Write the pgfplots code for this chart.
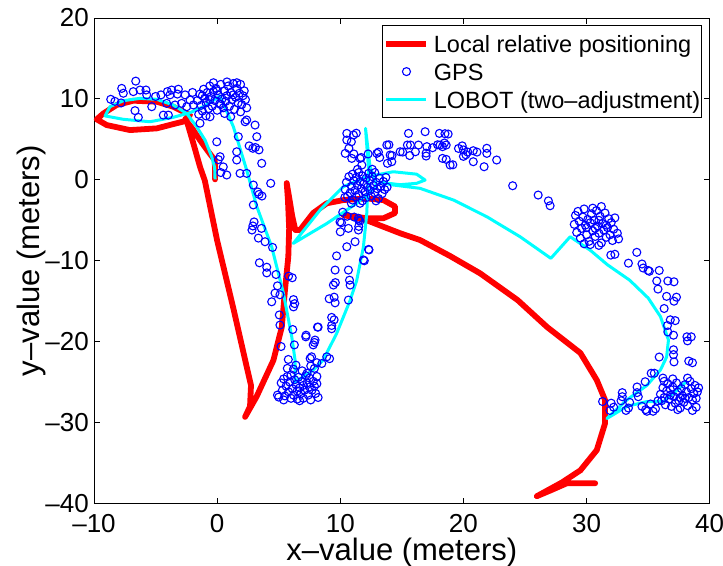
\documentclass[border=0pt]{standalone}
\usepackage{fontspec}
\setmainfont{Liberation Sans}
\usepackage{pgfplots}
\pgfplotsset{compat=1.18}
\usepackage{pgfplotstable}
\definecolor{mred}{rgb}{1,0,0}
\definecolor{mblue}{rgb}{0,0,1}
\definecolor{mcyan}{rgb}{0,1,1}
\pgfplotsset{
  linelegend/.style={legend image code/.code={\draw[##1, line cap=butt] (0pt,0pt) -- (40pt,0pt);}},
  marklegend/.style={legend image code/.code={\draw[##1] plot coordinates {(20pt,0pt)};}},
}

\pgfplotstableread{
x y
-0.17 0.06
-0.17 1.4
-0.2 2.45
-0.71 3.47
-1.39 4.9
-2.0 6.3
-2.6 7.48
-2.3 7.85
-2.2 8.0
-3.56 9.04
-4.9 9.65
-6.8 9.78
-8.16 9.25
-9.24 8.2
-9.78 7.48
-8.97 6.77
-7.08 6.15
-4.9 6.36
-3.28 7.0
-2.47 7.3
-1.93 4.5
-1.39 1.6
-1.0 -0.1
0.0 -7.5
1.32 -15.9
2.4 -23.1
2.75 -25.4
2.67 -28.0
2.27 -29.3
3.2 -26.8
4.57 -22.3
5.25 -18.2
5.51 -13.6
5.78 -9.5
5.85 -6.0
5.75 -2.5
5.65 -0.4
5.85 -2.2
6.1 -4.5
6.35 -6.2
6.73 -6.2
7.8 -4.1
8.9 -2.9
10.25 -2.5
12.15 -2.3
13.5 -2.5
14.45 -3.3
14.45 -4.1
13.5 -4.75
12.15 -4.75
10.25 -4.35
12.15 -5.0
14.86 -6.6
16.48 -7.44
18.9 -9.4
21.36 -11.56
24.4 -14.86
26.8 -18.2
29.5 -21.4
30.83 -24.75
31.5 -27.2
31.5 -30.1
30.83 -33.4
29.5 -35.9
28.0 -37.4
25.96 -39.1
27.2 -38.3
28.4 -37.5
30.7 -37.5
}\redpath

\pgfplotstableread{
x y
-0.17 0.06
-0.2 1.5
-0.44 2.86
-0.98 4.9
-1.66 6.56
-2.47 8.2
-3.56 9.25
-4.9 9.95
-6.26 10.07
-7.62 9.78
-8.7 9.04
-9.1 7.9
-7.62 7.48
-5.45 7.18
-3.56 7.73
-2.2 8.3
-1.12 9.04
0.24 10.36
1.32 6.56
2.4 1.2
3.22 -3.3
4.43 -8.27
5.38 -14.0
6.06 -19.4
6.33 -22.3
6.33 -25.0
7.8 -23.5
8.6 -22.3
9.7 -19.0
10.8 -14.9
11.34 -12.4
11.88 -8.27
12.15 -4.14
12.3 1.2
12.05 6.36
12.42 1.6
12.9 -0.3
12.9 -0.85
11.34 -2.9
8.9 -5.4
6.19 -7.85
8.36 -3.73
10.25 -0.85
12.15 0.38
14.3 1.0
16.2 0.7
16.89 -0.03
16.2 -0.43
14.86 -0.6
13.2 -0.3
14.3 -0.64
16.48 -1.05
19.2 -2.5
21.9 -4.56
24.6 -7.03
27.1 -9.7
28.67 -7.03
30.3 -8.7
31.7 -10.5
33.5 -12.4
35.0 -14.6
36.0 -16.9
36.65 -19.8
36.5 -21.9
36.0 -23.5
34.9 -25.4
33.27 -27.2
31.65 -29.5
33.27 -28.0
34.9 -27.4
36.25 -27.4
37.2 -26.2
38.1 -24.95
}\cyanpath

\pgfplotstableread{
x y
-8.64 9.95
-7.75 11.3
-7.62 10.7
-6.61 12.2
-6.81 10.9
-6.26 11.1
-5.78 11.1
-5.72 10.5
-6.67 8.55
-6.4 7.72
-5.31 9.04
-4.56 10.5
-4.04 10.9
-3.83 10.5
-3.69 11.1
-3.15 11.2
-3.23 10.6
-4.1 9.45
-3.42 9.25
-2.88 9.45
-2.2 9.86
-2.47 9.04
-1.93 9.25
-4.37 8.0
-3.96 8.0
-7.8 9.5
-8.3 9.7
-5.0 10.3
-2.6 10.5
-2.0 10.8
-1.6 9.8
-1.4 10.6
-1.3 9.2
-1.2 8.5
-1.1 11.2
-1.0 10.1
-0.9 9.5
-0.8 10.8
-0.7 8.8
-0.6 11.6
-0.5 10.3
-0.4 9.1
-0.3 10.9
-0.2 9.8
-0.1 11.3
0.0 8.6
0.1 10.5
0.2 9.4
0.3 11.8
0.4 10.0
0.5 8.9
0.6 11.0
0.7 9.7
0.8 10.4
0.9 11.6
1.0 9.1
1.1 10.8
1.2 9.9
1.3 11.9
1.4 8.7
1.5 10.2
1.6 11.3
1.7 9.5
1.8 10.7
1.9 11.8
2.0 9.3
2.1 10.4
2.2 11.0
2.3 9.9
-1.5 8.1
-0.9 7.9
0.6 8.2
1.1 7.8
1.9 8.4
-0.3 12.0
0.8 12.1
1.6 12.0
-0.6 9.9
0.3 9.3
1.3 10.5
0.0 11.0
-1.2 10.4
2.4 8.9
-1.39 7.0
-0.58 7.8
-0.03 4.7
0.24 2.86
0.1 2.5
0.5 1.6
0.78 0.6
0.3 0.9
1.59 2.45
1.59 3.47
1.72 5.33
2.4 7.4
3.08 6.77
2.27 7.18
3.22 5.33
2.9 3.9
2.6 4.2
3.1 4.0
3.4 3.7
3.62 2.04
2.4 0.8
1.86 0.8
2.94 -0.64
4.35 -0.43
3.4 -1.8
3.64 -2.0
3.3 -1.5
2.94 -3.1
3.0 -5.2
2.9 -5.7
2.83 -6.2
3.6 -6.0
3.35 -7.2
3.89 -7.65
4.5 -8.35
3.43 -10.25
4.03 -10.8
4.03 -11.5
4.78 -11.7
5.8 -11.9
6.1 -12.1
4.9 -13.1
4.7 -14.0
5.1 -14.2
4.43 -15.07
6.2 -14.8
6.3 -15.3
6.2 -15.7
5.05 -16.7
5.1 -17.95
6.14 -18.5
5.19 -20.6
6.27 -20.4
5.78 -22.2
5.7 -23.3
6.4 -22.9
7.22 -19.2
8.15 -18.2
7.95 -19.8
7.8 -20.4
7.55 -22.07
8.9 -21.87
8.5 -22.7
5.0 -26.85
4.9 -26.6
5.2 -25.1
5.3 -26.0
5.4 -24.6
5.5 -26.7
5.6 -25.5
5.7 -24.3
5.8 -26.2
5.9 -25.0
6.0 -27.0
6.0 -24.1
6.1 -25.8
6.2 -26.6
6.3 -24.7
6.4 -25.3
6.5 -26.1
6.5 -27.1
6.6 -24.4
6.7 -25.7
6.8 -26.4
6.9 -24.9
7.0 -25.4
7.0 -27.0
7.1 -26.0
7.2 -24.2
7.3 -25.1
7.4 -26.6
7.5 -25.6
7.5 -24.5
7.6 -27.2
7.7 -26.0
7.8 -24.9
7.9 -25.5
8.0 -26.4
8.1 -24.3
8.1 -25.2
7.9 -23.3
7.6 -23.0
8.1 -22.6
5.4 -27.2
6.9 -23.6
6.2 -23.4
7.3 -23.9
8.2 -26.9
6.7 -27.3
10.4 -1.2
10.5 -0.3
10.6 -2.0
10.7 0.4
10.8 -1.6
10.9 -0.8
11.0 0.7
11.0 -2.5
11.1 -0.1
11.2 -1.3
11.3 0.3
11.3 -2.1
11.4 -0.7
11.5 0.9
11.5 -1.8
11.6 -0.2
11.7 -1.1
11.8 0.5
11.8 -2.6
11.9 -0.5
12.0 -1.5
12.1 0.2
12.1 -2.2
12.2 -0.9
12.3 0.8
12.4 -1.3
12.4 -0.1
12.5 -2.0
12.6 0.4
12.7 -0.7
12.8 -1.6
12.8 0.9
12.9 -0.3
13.0 -1.1
13.1 -2.3
13.2 0.2
13.3 -0.8
13.4 -1.7
13.5 -0.2
13.6 -1.2
13.7 0.3
13.8 -0.9
11.6 -2.9
12.9 -2.6
10.9 -2.9
11.4 1.3
12.6 1.3
10.53 5.74
11.07 5.54
10.53 4.92
10.9 4.7
10.7 3.9
10.4 3.27
10.93 2.65
11.6 2.65
11.75 1.83
11.3 5.76
11.1 3.2
11.7 2.76
12.26 3.2
13.1 3.43
13.2 2.76
13.95 4.33
14.2 3.0
15.54 5.74
15.7 4.3
15.45 4.3
16.1 3.47
16.35 4.3
16.89 5.95
16.97 3.3
15.64 3.0
15.07 3.43
14.86 3.47
14.05 3.07
14.18 2.24
13.83 2.04
13.78 4.3
12.97 3.27
16.97 2.94
17.03 4.1
17.5 3.97
17.9 4.33
18.05 5.74
18.76 5.66
18.5 5.7
18.1 4.3
18.3 4.1
18.6 4.3
18.46 4.55
18.3 2.65
18.6 2.53
18.92 1.83
19.14 1.86
19.6 3.88
19.9 4.2
20.0 3.7
20.2 3.1
20.0 2.9
20.35 3.43
20.8 2.24
20.8 3.6
21.1 3.43
21.9 3.9
21.9 3.27
22.7 2.45
21.68 1.62
24.0 -0.73
26.07 -1.88
26.9 -2.6
27.04 -3.2
9.98 -5.2
10.2 -4.0
11.47 -4.75
11.5 -5.0
10.66 -6.0
11.47 -6.2
11.2 -7.65
10.53 -8.27
12.3 -8.6
11.88 -9.9
9.7 -9.4
9.58 -11.15
10.66 -11.15
10.8 -13.0
10.75 -12.4
9.44 -13.0
9.6 -12.7
9.1 -14.7
9.5 -14.5
9.58 -15.2
10.66 -14.86
9.3 -17.0
9.5 -17.3
9.3 -18.0
9.3 -18.4
8.2 -18.2
7.2 -19.4
7.9 -20.1
7.67 -21.87
9.13 -22.1
10.0 -6.42
10.1 -5.3
10.37 -2.17
10.56 -4.5
11.13 -4.6
11.6 -5.1
11.5 -5.75
12.33 -8.66
11.95 -10.0
29.0 -5.5
29.1 -4.4
29.2 -6.5
29.3 -3.9
29.4 -5.1
29.5 -7.2
29.6 -6.0
29.7 -4.6
29.8 -3.6
29.9 -5.6
30.0 -6.8
30.1 -4.9
30.2 -7.6
30.3 -5.3
30.4 -4.2
30.5 -6.3
30.6 -5.0
30.7 -7.0
30.8 -3.8
30.9 -5.7
31.0 -6.6
31.1 -4.5
31.2 -7.8
31.3 -5.4
31.4 -6.2
31.5 -4.1
31.6 -7.1
31.7 -5.9
31.8 -4.8
31.9 -6.8
32.0 -5.3
32.1 -7.5
32.2 -6.1
32.3 -4.7
32.5 -6.6
32.6 -7.3
30.3 -8.0
31.0 -8.1
29.8 -7.9
30.5 -3.5
31.2 -3.3
30.0 -5.9
31.0 -5.0
30.7 -6.0
31.6 -5.6
31.97 -9.3
32.3 -9.2
34.08 -8.96
33.4 -10.3
34.5 -10.4
34.6 -10.9
35.0 -11.2
35.1 -11.3
35.9 -11.2
35.7 -12.5
36.6 -12.5
37.1 -12.6
35.8 -13.5
36.5 -14.4
37.3 -14.5
37.1 -15.0
36.3 -15.9
36.57 -18.0
36.8 -17.3
37.2 -17.4
36.6 -18.8
37.06 -19.2
38.15 -19.4
38.5 -19.4
38.2 -19.9
37.06 -21.0
37.06 -21.6
37.1 -22.5
35.9 -21.9
38.3 -22.4
38.6 -22.6
35.25 -23.9
35.5 -23.9
34.76 -24.95
36.2 -24.5
34.1 -25.6
34.1 -26.3
34.2 -26.8
32.9 -26.3
32.9 -26.8
32.8 -27.3
33.5 -27.5
33.4 -28.2
33.2 -28.5
31.3 -27.4
32.0 -27.6
32.2 -28.1
31.9 -28.5
34.5 -28.0
34.8 -28.4
34.9 -28.6
35.2 -27.7
35.6 -28.3
35.4 -28.6
35.8 -27.3
36.0 -26.5
36.1 -27.3
36.2 -25.7
36.3 -26.9
36.4 -27.8
36.5 -26.1
36.6 -25.2
36.7 -27.1
36.8 -26.6
36.9 -28.0
37.0 -25.6
37.1 -26.8
37.2 -27.6
37.3 -25.1
37.4 -26.2
37.5 -27.3
37.6 -28.2
37.7 -25.8
37.8 -26.7
37.9 -27.5
38.0 -25.3
38.1 -26.2
38.2 -27.9
38.3 -26.9
38.4 -24.9
38.5 -25.8
38.6 -27.2
38.7 -26.4
38.8 -25.4
38.9 -27.0
39.0 -26.2
38.9 -28.1
36.3 -24.9
37.0 -24.6
38.2 -24.5
37.4 -28.4
38.6 -28.5
39.1 -25.7
36.8 -25.9
37.6 -26.9
38.0 -27.0
}\gpsdata

\begin{document}
\begin{tikzpicture}
\path[use as bounding box] (-94pt,-62.4pt) rectangle (629pt,503.5pt);
\begin{axis}[
  at={(0pt,0pt)}, anchor=south west,
  scale only axis, width=615.7pt, height=485.5pt,
  xmin=-10, xmax=40, ymin=-40, ymax=20,
  xtick={-10,0,10,20,30,40},
  xticklabels={--10,0,10,20,30,40},
  ytick={-40,-30,-20,-10,0,10,20},
  yticklabels={--40,--30,--20,--10,0,10,20},
  tick align=inside,
  major tick length=6pt,
  axis line style={line width=0.9pt, black},
  every tick/.style={line width=0.9pt, black},
  tick label style={font=\fontsize{26}{30}\selectfont},
  xticklabel style={anchor=base, inner sep=0pt, yshift=-28.5pt},
  yticklabel style={anchor=east, inner xsep=0pt, xshift=-5pt},
  xlabel={x--value (meters)},
  ylabel={y--value (meters)},
  label style={font=\fontsize{31}{36}\selectfont, inner sep=0pt},
  xlabel style={at={(axis description cs:0.5,0)}, anchor=base, yshift=-56.5pt},
  ylabel style={at={(axis description cs:0,0.5)}, anchor=base, yshift=54pt},
  legend cell align=left,
  legend style={at={(rel axis cs:1,1)}, anchor=north east, xshift=-7.5pt, yshift=-7.2pt,
    draw=black, line width=0.8pt, fill=white,
    inner xsep=1.5pt, inner ysep=4pt, row sep=0pt, column sep=4.5pt,
    font=\fontsize{23.5}{28}\selectfont,
    nodes={inner xsep=0pt, inner ysep=3pt, text height=19.5pt, text depth=2.5pt}},
]
\addplot[color=mred, line width=5.8pt, line cap=round, line join=round, linelegend]
  table[x=x,y=y] {\redpath};
\addlegendentry{Local relative positioning}
\addplot[only marks, mark=o, color=mblue, mark size=4pt, mark options={line width=1.1pt}, marklegend]
  table[x=x,y=y] {\gpsdata};
\addlegendentry{GPS}
\addplot[color=mcyan, line width=3pt, line join=round, linelegend]
  table[x=x,y=y] {\cyanpath};
\addlegendentry{LOBOT (two--adjustment)}
\end{axis}
\end{tikzpicture}
\end{document}
